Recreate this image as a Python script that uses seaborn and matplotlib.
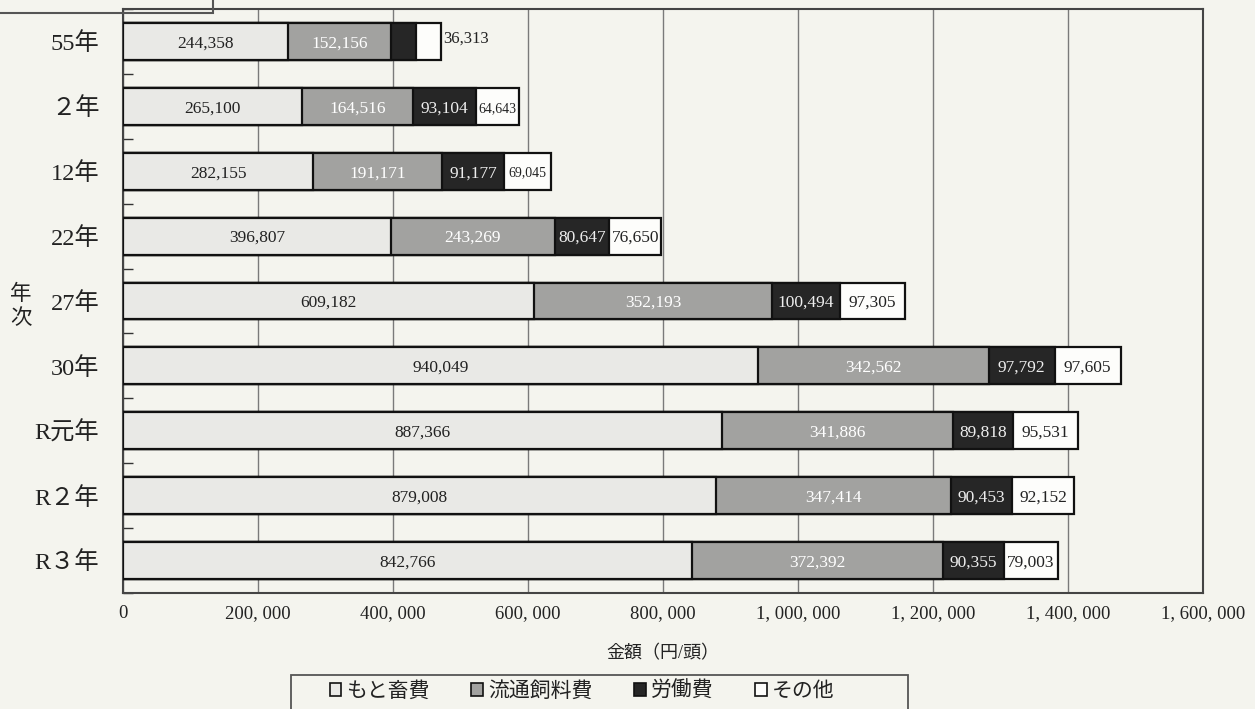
import numpy as np
import pandas as pd
import matplotlib
matplotlib.use("Agg")
import matplotlib.pyplot as plt
from matplotlib.patches import Rectangle, Patch
import seaborn as sns

# --- data ---
years = ["55年", "２年", "12年", "22年", "27年", "30年", "R元年", "R２年", "R３年"]
motochiku = [244358, 265100, 282155, 396807, 609182, 940049, 887366, 879008, 842766]
shiryo = [152156, 164516, 191171, 243269, 352193, 342562, 341886, 347414, 372392]
rodo = [38000, 93104, 91177, 80647, 100494, 97792, 89818, 90453, 90355]  # 55年 not labelled, estimated
sonota = [36313, 64643, 69045, 76650, 97305, 97605, 95531, 92152, 79003]
show_label_rodo = [False, True, True, True, True, True, True, True, True]

series_names = ["もと畜費", "流通飼料費", "労働費", "その他"]
x_ticks = [0, 200000, 400000, 600000, 800000, 1000000, 1200000, 1400000, 1600000]

df = pd.DataFrame({"year": years, "もと畜費": motochiku, "流通飼料費": shiryo,
                   "労働費": rodo, "その他": sonota})

colors = ["#e9e9e6", "#a2a2a0", "#262626", "#fdfdfb"]
text_colors = ["#222222", "white", "#eeeeee", "#222222"]

paper = "#f4f4ee"
sns.set_theme(style="white")
plt.rcParams["font.family"] = ["Liberation Serif", "Noto Sans CJK JP", "DejaVu Sans"]

fig = plt.figure(figsize=(12.55, 7.09), dpi=100, facecolor=paper)
ax = fig.add_axes([123 / 1255, 1 - 593 / 709, 1080 / 1255, 584 / 709])
ax.set_facecolor(paper)

# stacked bars: draw cumulative totals from the largest down so each layer sits on top
cum = df[series_names].cumsum(axis=1)
for name, col in reversed(list(zip(series_names, colors))):
    sns.barplot(data=cum.assign(year=df["year"]), x=name, y="year", orient="h",
                color=col, saturation=1, edgecolor="#111111", linewidth=1.6,
                width=0.57, errorbar=None, ax=ax, zorder=3)

# value labels
for i, yr in enumerate(years):
    for j, name in enumerate(series_names):
        val = df.loc[i, name]
        right = cum.loc[i, name]
        if name == "労働費" and not show_label_rodo[i]:
            continue
        label = f"{val:,}"
        if i == 0 and name == "その他":
            ax.text(right + 3000, i - 0.05, label, ha="left", va="center",
                    fontsize=12, color="#222222", zorder=5)
            continue
        fs = 10 if (name == "その他" and val < 70000) else 12.5
        ax.text(right - val / 2, i + 0.03, label, ha="center", va="center",
                fontsize=fs, color=text_colors[j], zorder=5)

# axes styling
ax.set_xlim(0, 1600000)
ax.set_ylim(8.5, -0.5)
ax.set_xticks(x_ticks)
ax.set_xticklabels([f"{v:,}".replace(",", ", ") for v in x_ticks], fontsize=13.5, color="#222222")
ax.tick_params(axis="x", length=0, pad=9)
ax.tick_params(axis="y", length=0, pad=17, labelsize=17.5, labelcolor="#222222")
ax.set_yticks(range(len(years)))
ax.set_yticklabels(years)
ax.set_yticks(np.arange(-0.5, len(years), 1), minor=True)
ax.tick_params(axis="y", which="minor", direction="in", length=7, width=1, color="#333333", left=True)
ax.grid(axis="x", color="#7a7a7a", linewidth=1, zorder=0)
ax.set_axisbelow(True)
for s in ax.spines.values():
    s.set_color("#444444")
    s.set_linewidth(1.5)

ax.set_xlabel("金額（円/頭）", fontsize=13, labelpad=16, color="#222222")
ax.set_ylabel("")
fig.text(21 / 1255, 1 - 307 / 709, "年\n次", fontsize=15.5, ha="center", va="center",
         linespacing=1.25, color="#222222")

# legend at the bottom, its frame cut off by the image edge
fig.add_artist(Rectangle((291 / 1255, -0.05), 617 / 1255, 0.05 + 34 / 709,
                         transform=fig.transFigure, facecolor=paper,
                         edgecolor="#555555", linewidth=1.3))
handles = [Patch(facecolor=c, edgecolor="#111111", linewidth=1.2) for c in colors]
leg = fig.legend(handles, series_names, loc="center",
                 bbox_to_anchor=(582 / 1255, 1 - 692 / 709), ncol=4, fontsize=15,
                 frameon=False, handlelength=0.55, handleheight=0.55, handletextpad=0.25,
                 columnspacing=2.0, borderpad=0)
for t in leg.get_texts():
    t.set_color("#222222")

# cut-off title box in the top-left corner
fig.add_artist(Rectangle((-0.01, 1 - 13 / 709), 0.01 + 213 / 1255, 0.05, transform=fig.transFigure,
                         fill=False, edgecolor="#555555", linewidth=1.5))

fig.savefig("out.png", dpi=100, facecolor=paper)
